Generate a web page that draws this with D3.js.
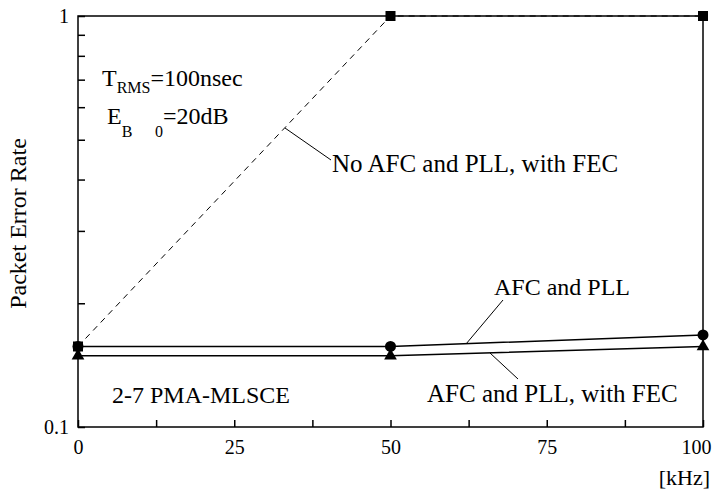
<!DOCTYPE html>
<html lang="en">
<head>
    <meta charset="UTF-8">
    <title>Packet Error Rate</title>
    <script src="https://d3js.org/d3.v7.min.js"></script>
    <style>
        body { margin: 0; background: #fff; }
        text { font-family: "Liberation Serif", "Times New Roman", serif; fill: #000; }
    </style>
</head>
<body>
    <svg width="712" height="493"></svg>

    <script>
        // Data
        const freqs = [0, 50, 100];                       // kHz
        const perAfcPll = [0.157, 0.157, 0.1675];           // circles
        const perAfcPllFec = [0.149, 0.149, 0.157];         // triangles
        const perNoAfcFec = [0.157, 1, 1];                  // squares, dashed
        const xTicks = [0, 25, 50, 75, 100];
        const xMinorTicks = [12.5, 37.5, 62.5, 87.5];
        const yTicks = [0.1, 1];
        const yMinorTicks = [0.2, 0.3, 0.4, 0.5, 0.6, 0.7, 0.8, 0.9];

        const width = 712, height = 493;
        const margin = { top: 16, right: 9, bottom: 66, left: 78 };

        const svg = d3.select("svg");

        const x = d3.scaleLinear()
            .domain([0, 100])
            .range([margin.left, width - margin.right]);

        const y = d3.scaleLog()
            .domain([0.1, 1])
            .range([height - margin.bottom, margin.top]);

        // Frame
        svg.append("rect")
            .attr("x", x(0)).attr("y", y(1))
            .attr("width", x(100) - x(0)).attr("height", y(0.1) - y(1))
            .attr("fill", "none").attr("stroke", "#000").attr("stroke-width", 1.5);

        // Bottom axis, ticks pointing inward
        const xAxis = svg.append("g")
            .attr("transform", `translate(0,${y(0.1)})`)
            .call(d3.axisBottom(x).tickValues(xTicks.concat(xMinorTicks))
                .tickSize(-7).tickPadding(13)
                .tickFormat(d => xTicks.includes(d) ? d : ""));
        xAxis.select(".domain").remove();
        xAxis.selectAll("line").attr("stroke-width", 1.5);
        xAxis.selectAll("text").attr("font-size", 20).attr("font-family", "Liberation Serif");
        // last label sits against the right edge of the page
        xAxis.selectAll("text").filter(d => d === 100)
            .attr("text-anchor", "end").attr("dx", 8);

        // Left axis, ticks pointing inward
        const yAxis = svg.append("g")
            .attr("transform", `translate(${x(0)},0)`)
            .call(d3.axisLeft(y).tickValues(yTicks.concat(yMinorTicks))
                .tickSize(-7).tickPadding(9)
                .tickFormat(d => yTicks.includes(d) ? d : ""));
        yAxis.select(".domain").remove();
        yAxis.selectAll("line").attr("stroke-width", 1.5);
        yAxis.selectAll("text").attr("font-size", 20).attr("font-family", "Liberation Serif");

        // Axis titles
        svg.append("text")
            .attr("transform", `translate(26,${(y(0.1) + y(1)) / 2 + 2}) rotate(-90)`)
            .attr("text-anchor", "middle")
            .attr("font-size", 24)
            .text("Packet Error Rate");

        svg.append("text")
            .attr("x", 710).attr("y", 485)
            .attr("text-anchor", "end")
            .attr("font-size", 22)
            .text("[kHz]");

        const line = vals => d3.line()
            .x((d, i) => x(freqs[i]))
            .y(d => y(d))(vals);

        // Series lines
        svg.append("path")
            .attr("d", line(perNoAfcFec))
            .attr("fill", "none").attr("stroke", "#000")
            .attr("stroke-width", 1).attr("stroke-dasharray", "6,5");

        svg.append("path")
            .attr("d", line(perAfcPll))
            .attr("fill", "none").attr("stroke", "#000").attr("stroke-width", 1.5);

        svg.append("path")
            .attr("d", line(perAfcPllFec))
            .attr("fill", "none").attr("stroke", "#000").attr("stroke-width", 1.5);

        // Markers
        svg.append("g").selectAll("rect")
            .data(perNoAfcFec)
            .join("rect")
            .attr("x", (d, i) => x(freqs[i]) - 5)
            .attr("y", d => y(d) - 5)
            .attr("width", 10).attr("height", 10)
            .attr("fill", "#000");

        svg.append("g").selectAll("path")
            .data(perAfcPllFec)
            .join("path")
            .attr("transform", (d, i) => `translate(${x(freqs[i])},${y(d)})`)
            .attr("d", d3.symbol(d3.symbolTriangle, 70))
            .attr("fill", "#000");

        svg.append("g").selectAll("circle")
            .data(perAfcPll)
            .join("circle")
            .attr("cx", (d, i) => x(freqs[i]))
            .attr("cy", d => y(d))
            .attr("r", 5.5)
            .attr("fill", "#000");

        // Annotations
        const t1 = svg.append("text").attr("y", 86).attr("font-size", 24);
        t1.append("tspan").attr("x", 102).text("T");
        t1.append("tspan").attr("font-size", 16).attr("dy", 7).text("RMS");
        t1.append("tspan").attr("dy", -7).text("=100nsec");

        const t2 = svg.append("text").attr("y", 124).attr("font-size", 24);
        t2.append("tspan").attr("x", 107).text("E");
        t2.append("tspan").attr("font-size", 16).attr("dy", 13).text("B");
        t2.append("tspan").attr("font-size", 16).attr("x", 155).text("0");
        t2.append("tspan").attr("dy", -13).text("=20dB");

        svg.append("text").attr("x", 332).attr("y", 172).attr("font-size", 25)
            .text("No AFC and PLL, with FEC");
        svg.append("line").attr("x1", 285).attr("y1", 128).attr("x2", 331).attr("y2", 160)
            .attr("stroke", "#000").attr("stroke-width", 1);

        svg.append("text").attr("x", 494).attr("y", 295).attr("font-size", 24)
            .text("AFC and PLL");
        svg.append("line").attr("x1", 466).attr("y1", 344).attr("x2", 503).attr("y2", 300)
            .attr("stroke", "#000").attr("stroke-width", 1);

        svg.append("text").attr("x", 427).attr("y", 402).attr("font-size", 25)
            .text("AFC and PLL, with FEC");
        svg.append("line").attr("x1", 490).attr("y1", 353).attr("x2", 518).attr("y2", 379)
            .attr("stroke", "#000").attr("stroke-width", 1);

        svg.append("text").attr("x", 112).attr("y", 403).attr("font-size", 24)
            .text("2-7 PMA-MLSCE");
    </script>
</body>
</html>
